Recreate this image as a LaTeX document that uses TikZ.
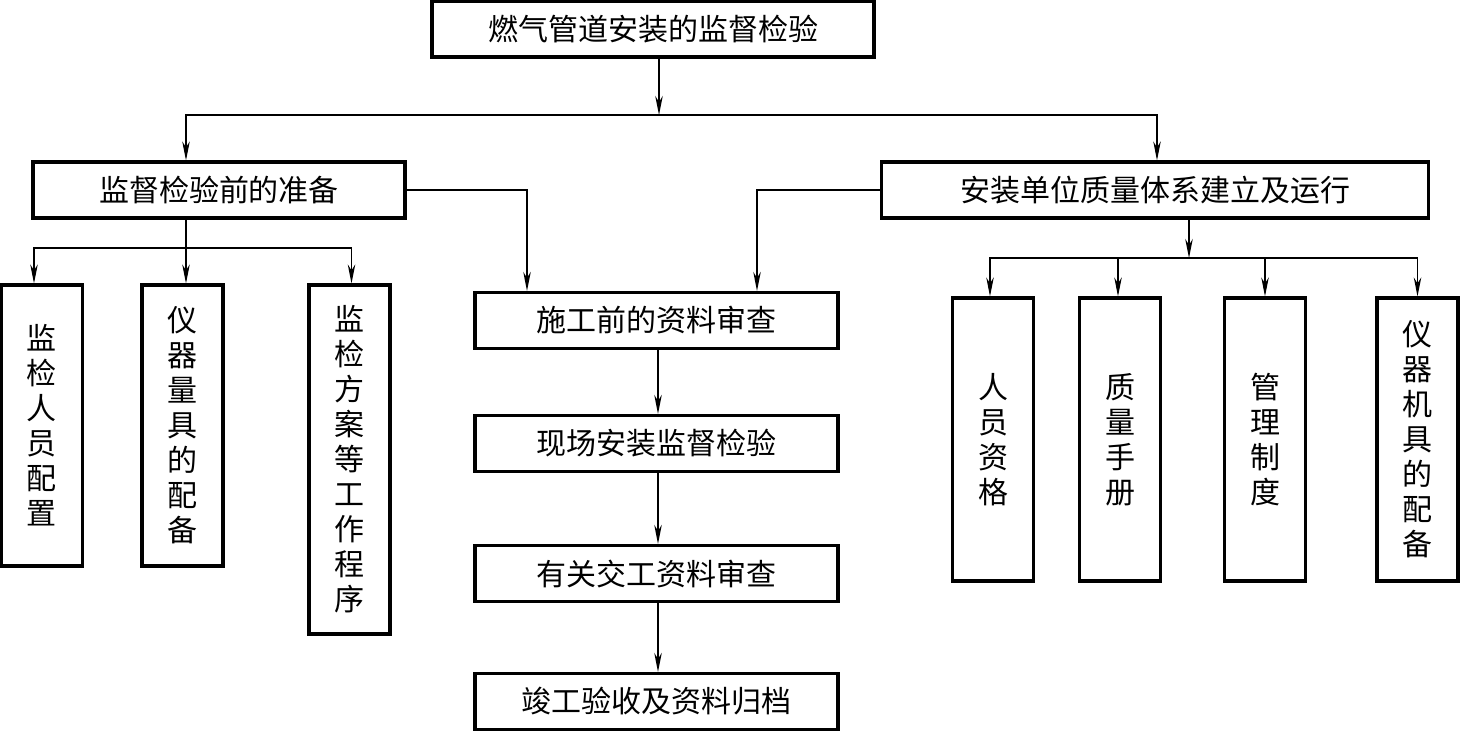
\documentclass[tikz,border=0pt]{standalone}
\usepackage{fontspec}
\newfontfamily\cjk{Noto Sans CJK SC}
\usetikzlibrary{arrows.meta}
\tikzset{
  box/.style={draw, line width=3.2pt, inner sep=0pt, font=\cjk\fontsize{30}{35}\selectfont, align=center},
  hbox/.style={box, minimum height=56pt},
  vbox/.style={box, minimum width=81pt},
  conn/.style={line width=1.3pt},
  arr/.style={conn, -{Stealth[length=19pt,width=7.5pt,inset=6pt]}}
}
\begin{document}
\begin{tikzpicture}[x=1pt,y=-1pt]
\useasboundingbox (0,0) rectangle (1460,732);
% nodes
\node[hbox, minimum width=442pt] (top) at (653,29) {燃气管道安装的监督检验};
\node[hbox, minimum width=372pt] (prep) at (219,190) {监督检验前的准备};
\node[hbox, minimum width=547pt] (qs) at (1155,190) {安装单位质量体系建立及运行};
\node[hbox, minimum width=363pt] (m1) at (656.5,320.5) {施工前的资料审查};
\node[hbox, minimum width=363pt] (m2) at (656.5,443.5) {现场安装监督检验};
\node[hbox, minimum width=363pt] (m3) at (656.5,573.5) {有关交工资料审查};
\node[hbox, minimum width=363pt] (m4) at (656.5,701.5) {竣工验收及资料归档};
\node[vbox, minimum height=281pt] (a1) at (42,425.5) {监\\检\\人\\员\\配\\置};
\node[vbox, minimum height=281pt] (a2) at (182.5,425.5) {仪\\器\\量\\具\\的\\配\\备};
\node[vbox, minimum height=349pt] (a3) at (349.5,459.5) {监\\检\\方\\案\\等\\工\\作\\程\\序};
\node[vbox, minimum height=283pt] (b1) at (993,439.5) {人\\员\\资\\格};
\node[vbox, minimum height=283pt] (b2) at (1120,439.5) {质\\量\\手\\册};
\node[vbox, minimum height=283pt] (b3) at (1265,439.5) {管\\理\\制\\度};
\node[vbox, minimum height=283pt] (b4) at (1417.5,439.5) {仪\\器\\机\\具\\的\\配\\备};
% junctions
\coordinate (j1) at (659,115);
\coordinate (j2) at (186,248);
\coordinate (j3) at (1189,258);
% connectors
\draw[arr] ([xshift=6pt]top.south) -- (j1);
\draw[arr] (j1) -| ([xshift=-33pt]prep.north);
\draw[arr] (j1) -| ([xshift=2pt]qs.north);
\draw[arr] (prep.east) -| ([xshift=-129.5pt]m1.north);
\draw[arr] (qs.west) -| ([xshift=100.5pt]m1.north);
\draw[arr] ([xshift=-33pt]prep.south) -- ([xshift=-33pt]prep.south |- a2.north);
\draw[arr] (j2) -| ([xshift=-8pt]a1.north);
\draw[arr] (j2) -| ([xshift=2pt]a3.north);
\draw[arr] ([xshift=34pt]qs.south) -- (j3);
\draw[arr] (j3) -| ([xshift=-3pt]b1.north);
\draw[arr] (j3) -| ([xshift=-2pt]b2.north);
\draw[arr] (j3) -| (b3.north);
\draw[arr] (j3) -| (b4.north);
\draw[arr] ([xshift=1.5pt]m1.south) -- ([xshift=1.5pt]m2.north);
\draw[arr] ([xshift=1.5pt]m2.south) -- ([xshift=1.5pt]m3.north);
\draw[arr] ([xshift=1.5pt]m3.south) -- ([xshift=1.5pt]m4.north);
\end{tikzpicture}
\end{document}
